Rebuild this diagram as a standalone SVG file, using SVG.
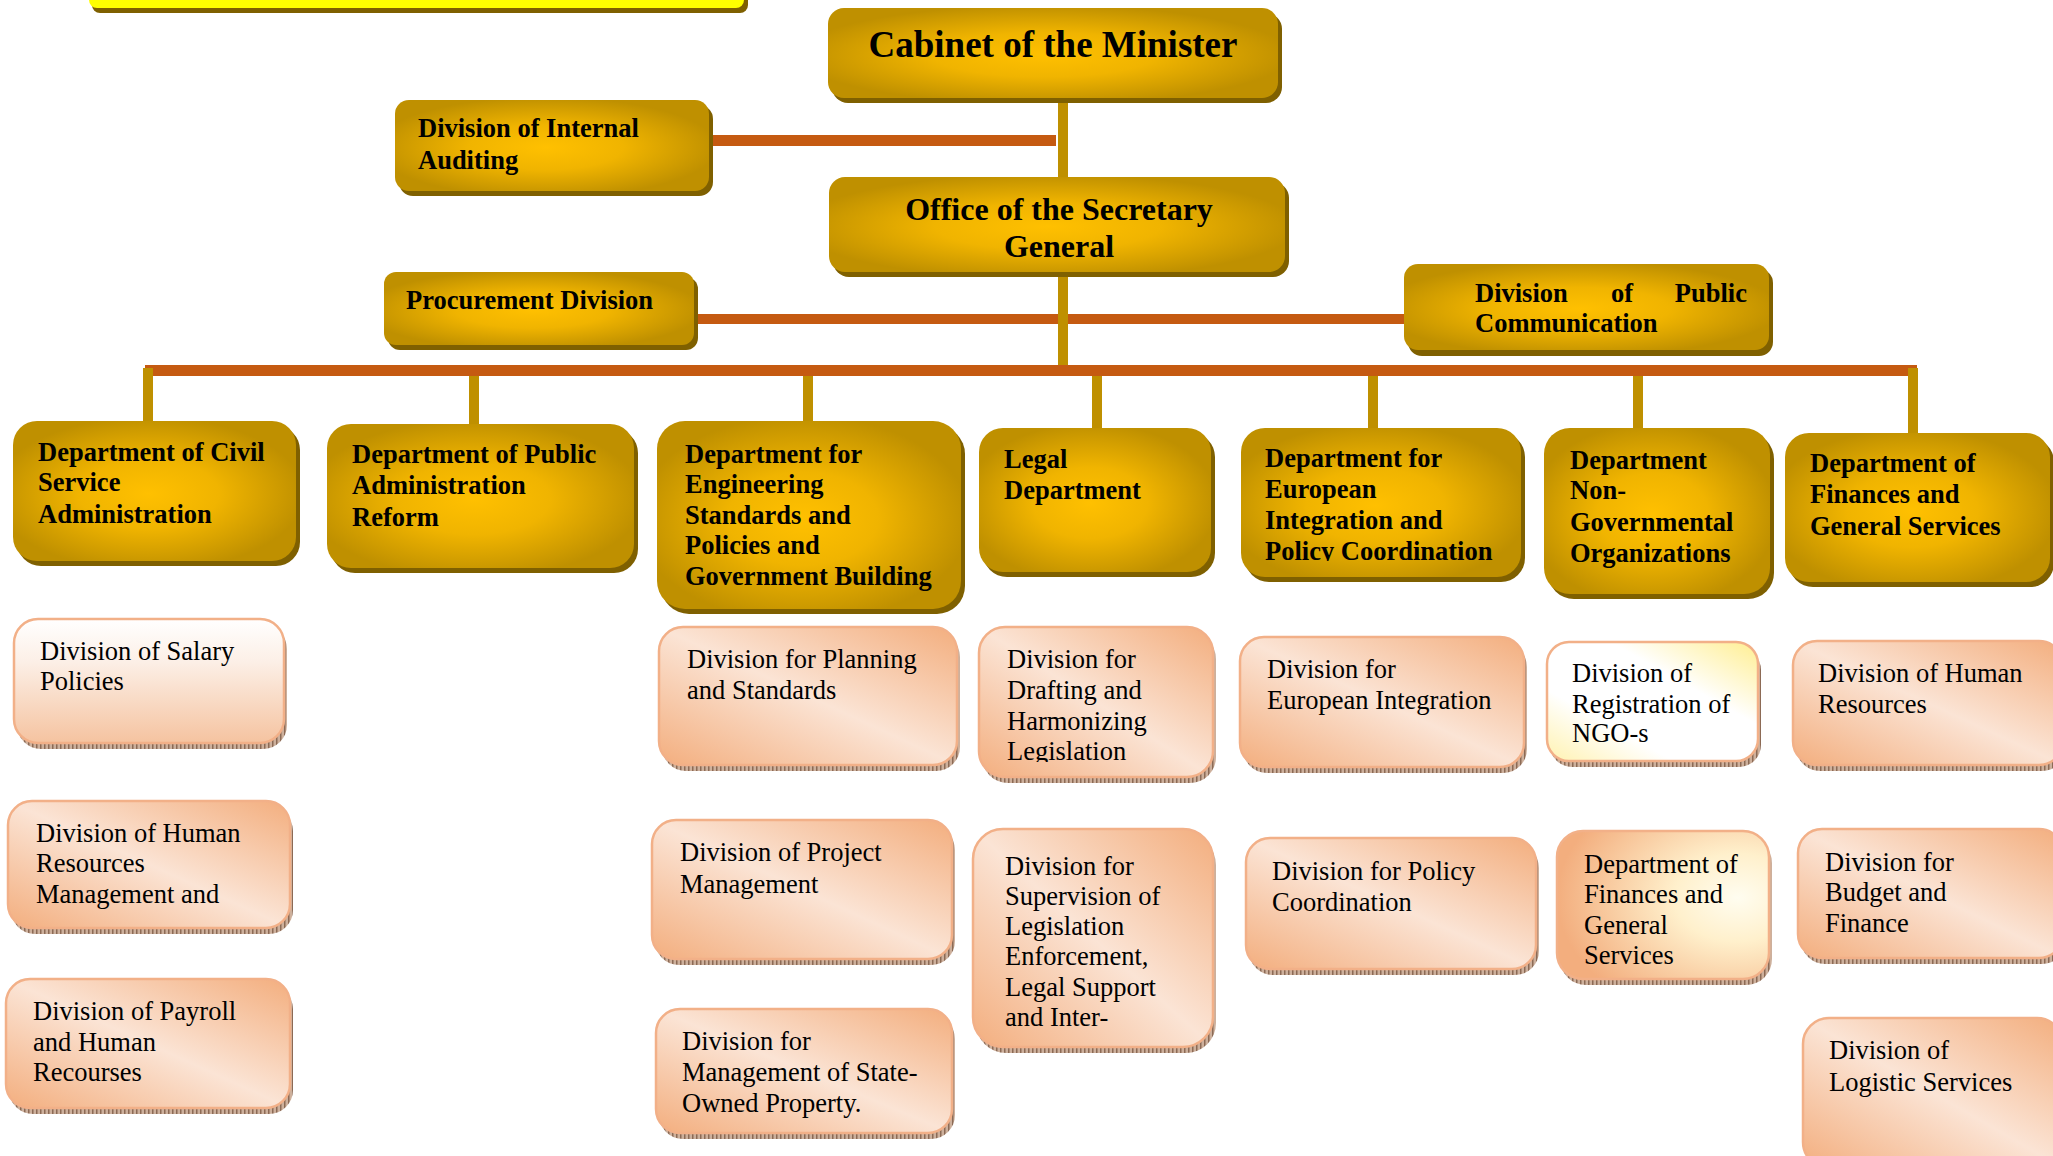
<svg xmlns="http://www.w3.org/2000/svg" width="2053" height="1156" viewBox="0 0 2053 1156">
  <defs>
    <radialGradient id="goldGrad" cx="0.48" cy="0.52" r="0.55">
      <stop offset="0" stop-color="#FFC000"/>
      <stop offset="0.45" stop-color="#F0B400"/>
      <stop offset="1" stop-color="#BF9000"/>
    </radialGradient>
    <linearGradient id="peachGrad" x1="1" y1="0" x2="0" y2="1">
      <stop offset="0" stop-color="#F3AE7E"/>
      <stop offset="0.5" stop-color="#FBE4D5"/>
      <stop offset="1" stop-color="#F3AE7E"/>
    </linearGradient>
    <linearGradient id="salaryGrad" x1="0" y1="0" x2="0" y2="1">
      <stop offset="0" stop-color="#FFFFFF"/>
      <stop offset="0.35" stop-color="#FCEFE6"/>
      <stop offset="1" stop-color="#F5C3A0"/>
    </linearGradient>
    <linearGradient id="ngoGrad" x1="1" y1="0" x2="0" y2="1">
      <stop offset="0" stop-color="#FFEE90"/>
      <stop offset="0.35" stop-color="#FFFFFF"/>
      <stop offset="0.7" stop-color="#FFFFFF"/>
      <stop offset="1" stop-color="#FFF2B0"/>
    </linearGradient>
    <radialGradient id="finSubGrad" cx="0.85" cy="0.45" r="0.85">
      <stop offset="0" stop-color="#FFFDF0"/>
      <stop offset="0.35" stop-color="#FFF0CC"/>
      <stop offset="1" stop-color="#F3AE7E"/>
    </radialGradient>
    <pattern id="hatch" width="4" height="4" patternUnits="userSpaceOnUse">
      <rect width="4" height="4" fill="#CDB09C"/>
      <rect width="1.5" height="4" fill="#8C6A55"/>
    </pattern>
    <clipPath id="clipEu"><rect x="1241" y="428" width="280" height="133"/></clipPath>
    <clipPath id="clipDraft"><rect x="979" y="627" width="234" height="135"/></clipPath>
    <style>
      .gold { fill: url(#goldGrad); }
      .gshadow { fill: #7F6000; }
      .peach { fill: url(#peachGrad); stroke: #F2B088; stroke-width: 2.5; }
      .pshadow { fill: url(#hatch); }
      .bt { font-family: "Liberation Serif", "Times New Roman", serif; font-weight: bold; font-size: 26.5px; fill: #000; }
      .rt { font-family: "Liberation Serif", "Times New Roman", serif; font-size: 26.5px; fill: #000; }
      .orange { fill: #C55A11; }
      .goldline { fill: #BF9000; }
    </style>
  </defs>

  <rect width="2053" height="1156" fill="#FFFFFF"/>

  <!-- title banner at the top edge -->
  <g id="banner">
    <rect x="92" y="-40" width="656" height="53" rx="8" fill="#7F6000"/>
    <rect x="89" y="-40" width="655" height="48" rx="8" fill="#FFFF00"/>
  </g>

  <!-- connectors -->
  <g id="connectors">
    <rect class="orange" x="708" y="135" width="348" height="11"/>
    <rect class="orange" x="694" y="314" width="712" height="10"/>
    <rect class="orange" x="145" y="365" width="1772" height="11"/>
    <rect class="goldline" x="1058" y="98" width="10" height="267"/>
    <rect class="goldline" x="143" y="368" width="10" height="53"/>
    <rect class="goldline" x="469" y="376" width="10" height="48"/>
    <rect class="goldline" x="803" y="376" width="10" height="45"/>
    <rect class="goldline" x="1092" y="376" width="10" height="52"/>
    <rect class="goldline" x="1368" y="376" width="10" height="52"/>
    <rect class="goldline" x="1633" y="376" width="10" height="52"/>
    <rect class="goldline" x="1908" y="368" width="10" height="65"/>
  </g>

  <!-- top management -->
  <g id="cabinet">
    <rect class="gshadow" x="832" y="13" width="450" height="90" rx="16"/>
    <rect class="gold" x="828" y="8" width="450" height="90" rx="16"/>
    <text class="bt" x="1053" y="57" text-anchor="middle" style="font-size:37px">Cabinet of the Minister</text>
  </g>

  <g id="internal-auditing">
    <rect class="gshadow" x="399" y="105" width="314" height="91" rx="14"/>
    <rect class="gold" x="395" y="100" width="314" height="91" rx="14"/>
    <text class="bt" x="418" y="137">Division of Internal</text>
    <text class="bt" x="418" y="169">Auditing</text>
  </g>

  <g id="secretary-general">
    <rect class="gshadow" x="833" y="182" width="456" height="95" rx="16"/>
    <rect class="gold" x="829" y="177" width="456" height="95" rx="16"/>
    <text class="bt" x="1059" y="220" text-anchor="middle" style="font-size:32px">Office of the Secretary</text>
    <text class="bt" x="1059" y="257" text-anchor="middle" style="font-size:32px">General</text>
  </g>

  <g id="procurement">
    <rect class="gshadow" x="388" y="277" width="310" height="73" rx="12"/>
    <rect class="gold" x="384" y="272" width="310" height="73" rx="12"/>
    <text class="bt" x="406" y="309">Procurement Division</text>
  </g>

  <g id="public-communication">
    <rect class="gshadow" x="1408" y="269" width="365" height="87" rx="14"/>
    <rect class="gold" x="1404" y="264" width="365" height="86" rx="14"/>
    <text class="bt" x="1475" y="302">Division</text>
    <text class="bt" x="1622" y="302" text-anchor="middle">of</text>
    <text class="bt" x="1747" y="302" text-anchor="end">Public</text>
    <text class="bt" x="1475" y="332">Communication</text>
  </g>

  <!-- departments -->
  <g id="dept-civil-service">
    <rect class="gshadow" x="17" y="426" width="283" height="140" rx="24"/>
    <rect class="gold" x="13" y="421" width="283" height="140" rx="24"/>
    <text class="bt" x="38" y="461">Department of Civil</text>
    <text class="bt" x="38" y="491">Service</text>
    <text class="bt" x="38" y="523">Administration</text>
  </g>

  <g id="dept-public-admin">
    <rect class="gshadow" x="331" y="429" width="307" height="144" rx="24"/>
    <rect class="gold" x="327" y="424" width="307" height="144" rx="24"/>
    <text class="bt" x="352" y="463">Department of Public</text>
    <text class="bt" x="352" y="494">Administration</text>
    <text class="bt" x="352" y="526">Reform</text>
  </g>

  <g id="dept-engineering">
    <rect class="gshadow" x="661" y="426" width="304" height="188" rx="28"/>
    <rect class="gold" x="657" y="421" width="304" height="188" rx="28"/>
    <text class="bt" x="685" y="463">Department for</text>
    <text class="bt" x="685" y="493">Engineering</text>
    <text class="bt" x="685" y="524">Standards and</text>
    <text class="bt" x="685" y="554">Policies and</text>
    <text class="bt" x="685" y="585">Government Building</text>
  </g>

  <g id="dept-legal">
    <rect class="gshadow" x="983" y="433" width="232" height="144" rx="24"/>
    <rect class="gold" x="979" y="428" width="232" height="144" rx="24"/>
    <text class="bt" x="1004" y="468">Legal</text>
    <text class="bt" x="1004" y="499">Department</text>
  </g>

  <g id="dept-european">
    <rect class="gshadow" x="1245" y="433" width="280" height="149" rx="24"/>
    <rect class="gold" x="1241" y="428" width="280" height="149" rx="24"/>
    <g clip-path="url(#clipEu)">
      <text class="bt" x="1265" y="467">Department for</text>
      <text class="bt" x="1265" y="498">European</text>
      <text class="bt" x="1265" y="529">Integration and</text>
      <text class="bt" x="1265" y="560">Policy Coordination</text>
    </g>
  </g>

  <g id="dept-ngo">
    <rect class="gshadow" x="1548" y="433" width="226" height="166" rx="26"/>
    <rect class="gold" x="1544" y="428" width="226" height="166" rx="26"/>
    <text class="bt" x="1570" y="469">Department</text>
    <text class="bt" x="1570" y="499">Non-</text>
    <text class="bt" x="1570" y="531">Governmental</text>
    <text class="bt" x="1570" y="562">Organizations</text>
  </g>

  <g id="dept-finances">
    <rect class="gshadow" x="1789" y="438" width="265" height="149" rx="24"/>
    <rect class="gold" x="1785" y="433" width="265" height="149" rx="24"/>
    <text class="bt" x="1810" y="472">Department of</text>
    <text class="bt" x="1810" y="503">Finances and</text>
    <text class="bt" x="1810" y="535">General Services</text>
  </g>

  <!-- divisions -->
  <g id="div-salary">
    <rect class="pshadow" x="17" y="625" width="270" height="124" rx="24"/>
    <rect class="peach" x="14" y="619" width="270" height="124" rx="24" style="fill:url(#salaryGrad)"/>
    <text class="rt" x="40" y="660">Division of Salary</text>
    <text class="rt" x="40" y="690">Policies</text>
  </g>

  <g id="div-hr-management">
    <rect class="pshadow" x="11" y="807" width="282" height="127" rx="24"/>
    <rect class="peach" x="8" y="801" width="282" height="127" rx="24"/>
    <text class="rt" x="36" y="842">Division of Human</text>
    <text class="rt" x="36" y="872">Resources</text>
    <text class="rt" x="36" y="903">Management and</text>
  </g>

  <g id="div-payroll">
    <rect class="pshadow" x="9" y="985" width="284" height="129" rx="24"/>
    <rect class="peach" x="6" y="979" width="284" height="129" rx="24"/>
    <text class="rt" x="33" y="1020">Division of Payroll</text>
    <text class="rt" x="33" y="1051">and Human</text>
    <text class="rt" x="33" y="1081">Recourses</text>
  </g>

  <g id="div-planning">
    <rect class="pshadow" x="662" y="633" width="298" height="138" rx="24"/>
    <rect class="peach" x="659" y="627" width="298" height="138" rx="24"/>
    <text class="rt" x="687" y="668">Division for Planning</text>
    <text class="rt" x="687" y="699">and Standards</text>
  </g>

  <g id="div-project">
    <rect class="pshadow" x="655" y="826" width="300" height="139" rx="24"/>
    <rect class="peach" x="652" y="820" width="300" height="139" rx="24"/>
    <text class="rt" x="680" y="861">Division of Project</text>
    <text class="rt" x="680" y="893">Management</text>
  </g>

  <g id="div-state-property">
    <rect class="pshadow" x="659" y="1015" width="296" height="124" rx="24"/>
    <rect class="peach" x="656" y="1009" width="296" height="124" rx="24"/>
    <text class="rt" x="682" y="1050">Division for</text>
    <text class="rt" x="682" y="1081">Management of State-</text>
    <text class="rt" x="682" y="1112">Owned Property.</text>
  </g>

  <g id="div-drafting">
    <rect class="pshadow" x="982" y="633" width="234" height="150" rx="26"/>
    <rect class="peach" x="979" y="627" width="234" height="150" rx="26"/>
    <g clip-path="url(#clipDraft)">
      <text class="rt" x="1007" y="668">Division for</text>
      <text class="rt" x="1007" y="699">Drafting and</text>
      <text class="rt" x="1007" y="730">Harmonizing</text>
      <text class="rt" x="1007" y="760">Legislation</text>
    </g>
  </g>

  <g id="div-supervision">
    <rect class="pshadow" x="976" y="835" width="240" height="218" rx="30"/>
    <rect class="peach" x="973" y="829" width="240" height="218" rx="30"/>
    <text class="rt" x="1005" y="875">Division for</text>
    <text class="rt" x="1005" y="905">Supervision of</text>
    <text class="rt" x="1005" y="935">Legislation</text>
    <text class="rt" x="1005" y="965">Enforcement,</text>
    <text class="rt" x="1005" y="996">Legal Support</text>
    <text class="rt" x="1005" y="1026">and Inter-</text>
  </g>

  <g id="div-eu-integration">
    <rect class="pshadow" x="1243" y="643" width="284" height="130" rx="24"/>
    <rect class="peach" x="1240" y="637" width="284" height="130" rx="24"/>
    <text class="rt" x="1267" y="678">Division for</text>
    <text class="rt" x="1267" y="709">European Integration</text>
  </g>

  <g id="div-policy-coordination">
    <rect class="pshadow" x="1249" y="844" width="290" height="131" rx="24"/>
    <rect class="peach" x="1246" y="838" width="290" height="131" rx="24"/>
    <text class="rt" x="1272" y="880">Division for Policy</text>
    <text class="rt" x="1272" y="911">Coordination</text>
  </g>

  <g id="div-ngo-registration">
    <rect class="pshadow" x="1550" y="648" width="211" height="119" rx="22"/>
    <rect class="peach" x="1547" y="642" width="211" height="119" rx="22" style="fill:url(#ngoGrad)"/>
    <text class="rt" x="1572" y="682">Division of</text>
    <text class="rt" x="1572" y="713">Registration of</text>
    <text class="rt" x="1572" y="742">NGO-s</text>
  </g>

  <g id="div-finances-general">
    <rect class="pshadow" x="1560" y="837" width="212" height="148" rx="26"/>
    <rect class="peach" x="1557" y="831" width="212" height="148" rx="26" style="fill:url(#finSubGrad)"/>
    <text class="rt" x="1584" y="873">Department of</text>
    <text class="rt" x="1584" y="903">Finances and</text>
    <text class="rt" x="1584" y="934">General</text>
    <text class="rt" x="1584" y="964">Services</text>
  </g>

  <g id="div-human-resources">
    <rect class="pshadow" x="1796" y="647" width="270" height="124" rx="24"/>
    <rect class="peach" x="1793" y="641" width="270" height="124" rx="24"/>
    <text class="rt" x="1818" y="682">Division of Human</text>
    <text class="rt" x="1818" y="713">Resources</text>
  </g>

  <g id="div-budget">
    <rect class="pshadow" x="1801" y="835" width="265" height="129" rx="24"/>
    <rect class="peach" x="1798" y="829" width="265" height="129" rx="24"/>
    <text class="rt" x="1825" y="871">Division for</text>
    <text class="rt" x="1825" y="901">Budget and</text>
    <text class="rt" x="1825" y="932">Finance</text>
  </g>

  <g id="div-logistic">
    <rect class="pshadow" x="1806" y="1024" width="260" height="150" rx="26"/>
    <rect class="peach" x="1803" y="1018" width="260" height="150" rx="26"/>
    <text class="rt" x="1829" y="1059">Division of</text>
    <text class="rt" x="1829" y="1091">Logistic Services</text>
  </g>
</svg>
